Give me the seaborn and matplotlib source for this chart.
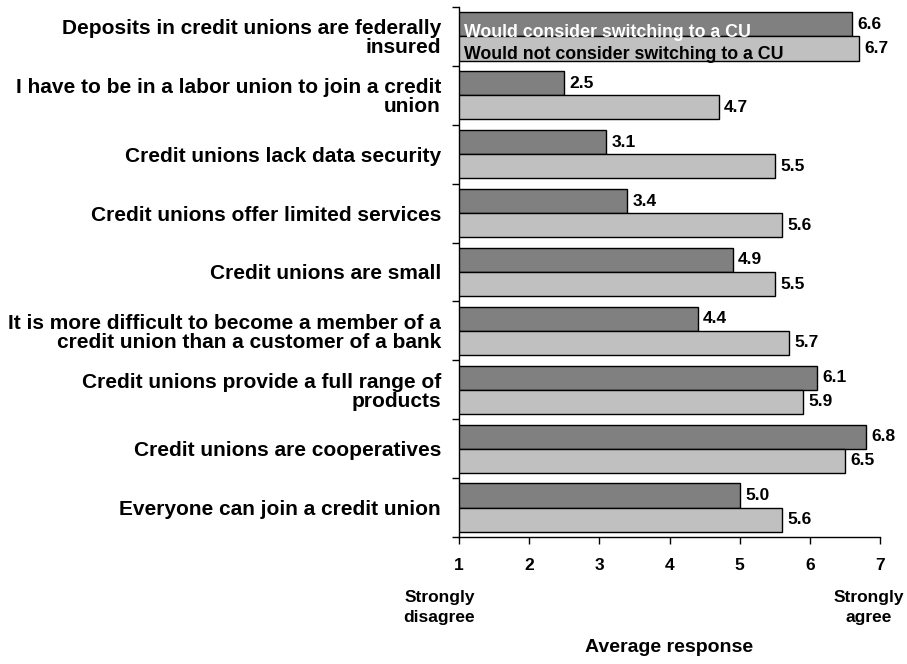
import matplotlib
matplotlib.use("Agg")
import matplotlib.pyplot as plt
import seaborn as sns
import pandas as pd
import numpy as np

statements = [
    "Deposits in credit unions are federally\ninsured",
    "I have to be in a labor union to join a credit\nunion",
    "Credit unions lack data security",
    "Credit unions offer limited services",
    "Credit unions are small",
    "It is more difficult to become a member of a\ncredit union than a customer of a bank",
    "Credit unions provide a full range of\nproducts",
    "Credit unions are cooperatives",
    "Everyone can join a credit union",
]
would_consider = [6.6, 2.5, 3.1, 3.4, 4.9, 4.4, 6.1, 6.8, 5.0]
would_not_consider = [6.7, 4.7, 5.5, 5.6, 5.5, 5.7, 5.9, 6.5, 5.6]
series_names = ["Would consider switching to a CU",
                "Would not consider switching to a CU"]
x_ticks = [1, 2, 3, 4, 5, 6, 7]

df = pd.DataFrame({
    "statement": statements * 2,
    "value": would_consider + would_not_consider,
    "group": [series_names[0]] * len(statements) + [series_names[1]] * len(statements),
})

sns.set_theme(style="white")
plt.rcParams["font.family"] = ["Liberation Sans", "DejaVu Sans"]
plt.rcParams["font.weight"] = "bold"
for key in ["text.color", "axes.labelcolor", "xtick.color", "ytick.color"]:
    plt.rcParams[key] = "black"

fig = plt.figure(figsize=(9.07, 6.64), dpi=100)
ax = fig.add_axes([459 / 907, 1 - 537 / 664, 421 / 907, 530 / 664])

sns.barplot(data=df, y="statement", x="value", hue="group",
            order=statements, hue_order=series_names,
            palette=["#808080", "#C0C0C0"], orient="h",
            edgecolor="black", linewidth=1.0, width=0.82,
            saturation=1, errorbar=None, ax=ax)

for cont in ax.containers:
    ax.bar_label(cont, fmt="%.1f", padding=4, fontsize=12.5,
                 fontweight="bold", color="black")

ax.set_xlim(1, 7)
ax.set_xticks(x_ticks)
ax.set_xticklabels([str(t) for t in x_ticks], fontsize=12.5, fontweight="bold")
n = len(statements)
ax.set_ylim(n - 0.5, -0.5)
ax.set_yticks(range(n))
ax.set_yticklabels(statements, fontsize=15, fontweight="bold", linespacing=1.0)
ax.set_yticks(np.arange(-0.5, n, 1.0), minor=True)
ax.tick_params(axis="y", which="major", length=0, pad=13)
ax.tick_params(axis="y", which="minor", length=5, width=1, color="black",
               direction="out", left=True)
ax.tick_params(axis="x", which="major", length=5, width=1, color="black",
               direction="out", bottom=True, pad=10)
ax.set_ylabel("")
ax.set_xlabel("Average response", fontsize=14, fontweight="bold", labelpad=48)

for side in ["top", "right"]:
    ax.spines[side].set_visible(False)
for side in ["left", "bottom"]:
    ax.spines[side].set_color("black")
    ax.spines[side].set_linewidth(1.0)

# Scale end descriptions under the first and last ticks
ax.annotate("Strongly\ndisagree", xy=(1, 0), xycoords=("data", "axes fraction"),
            xytext=(-14, -38), textcoords="offset points", ha="center", va="top",
            fontsize=12.5, fontweight="bold", linespacing=1.45)
ax.annotate("Strongly\nagree", xy=(7, 0), xycoords=("data", "axes fraction"),
            xytext=(-8, -38), textcoords="offset points", ha="center", va="top",
            fontsize=12.5, fontweight="bold", linespacing=1.45)

h, l = ax.get_legend_handles_labels()
leg = ax.legend(h, l, loc="upper left", bbox_to_anchor=(0.012, 0.968),
                frameon=False, handlelength=0, handleheight=0, handletextpad=0,
                borderpad=0, borderaxespad=0, labelspacing=0.3,
                labelcolor=["white", "black"],
                prop={"weight": "bold", "size": 12.8})
for hd in leg.legend_handles:
    hd.set_visible(False)

fig.savefig("out.png", dpi=100)
